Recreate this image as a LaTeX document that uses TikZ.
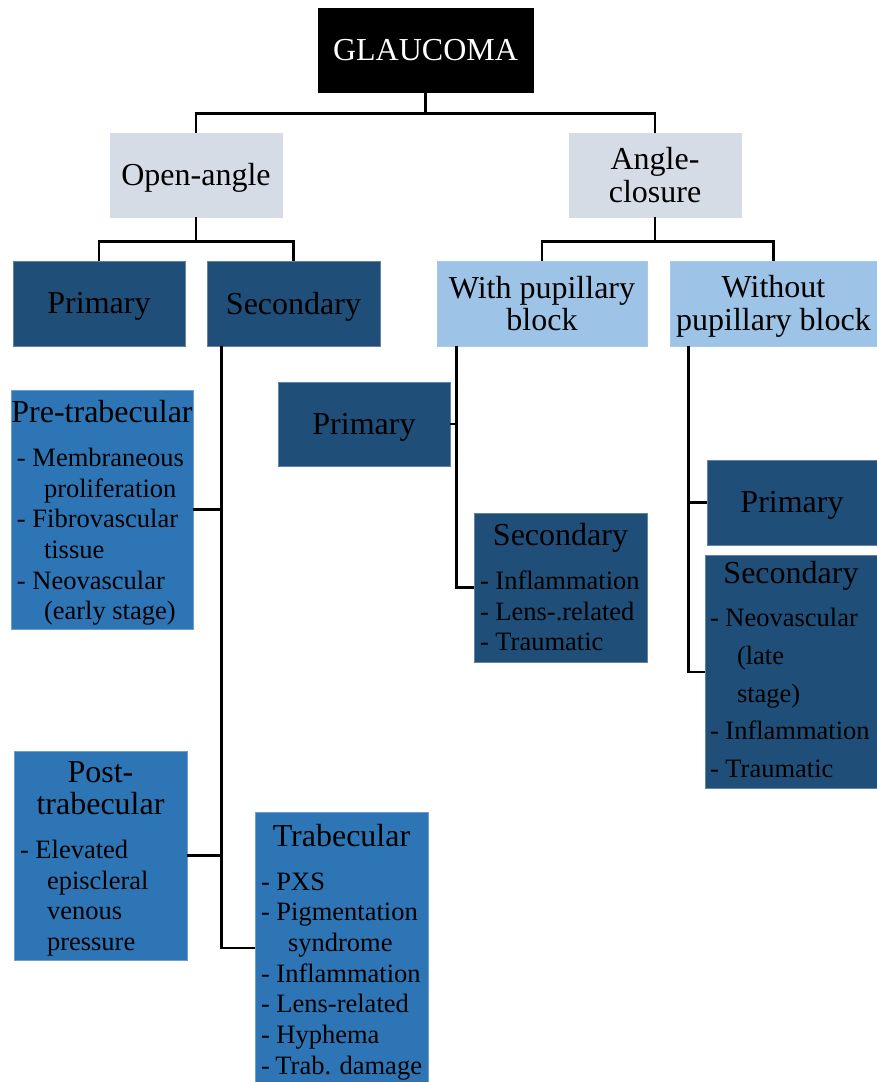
\documentclass[tikz,border=0pt]{standalone}
\usepackage{fontspec}
\setmainfont{Liberation Serif}
\usepackage{tikz}
\usetikzlibrary{positioning}
\usepackage{xcolor}
\definecolor{greyc}{HTML}{D6DCE5}
\definecolor{lightc}{HTML}{9DC3E6}
\definecolor{darkc}{HTML}{1F4E79}
\definecolor{midc}{HTML}{2E75B6}
\newcommand{\indt}{\hspace*{27pt}}
\newcommand{\lift}[1]{\rule{0pt}{#1pt}}
\newcommand{\itemlist}[3][30.7]{{\fontsize{26.5}{#1}\selectfont\begin{tabular}[t]{@{}p{#2pt}@{}}#3\end{tabular}}}

\begin{document}
\begin{tikzpicture}[x=1pt,y=-1pt,line width=2.5pt,
  box/.style={inner sep=0pt,line width=.8pt,align=center,font=\fontsize{32}{32.5}\selectfont},
  topbox/.style={box,fill=black,draw=black,text=white},
  greybox/.style={box,fill=greyc,draw=greyc},
  lightbox/.style={box,fill=lightc,draw=lightc!90!white},
  darkbox/.style={box,fill=darkc,draw=darkc!70!white},
  midbox/.style={box,fill=midc,draw=midc!70!white}]
\useasboundingbox (0,0) rectangle (877,1082);

\node[topbox,minimum width=215,minimum height=84] (glaucoma) at (425.5,50) {GLAUCOMA};

\node[greybox,minimum width=172,minimum height=84] (openangle) at (196,175) {\lift{27}Open-angle};
\node[greybox,minimum width=172,minimum height=84] (angleclosure) at (655,175) {Angle-\\closure};

\node[darkbox,minimum width=172,minimum height=85] (primOA) at (99,303.5) {\lift{27}Primary};
\node[darkbox,minimum width=173,minimum height=85] (secOA) at (293.5,303.5) {\lift{28}Secondary};
\node[lightbox,minimum width=210,minimum height=85] (withPB) at (542,303.5) {With pupillary\\block};
\node[lightbox,minimum width=207,minimum height=85] (withoutPB) at (773.5,303.5) {\lift{28}Without\\pupillary block};

% open-angle, secondary
\node[midbox,minimum width=182,minimum height=235] (pretrab) at (102,509.5) {\lift{33}Pre-trabecular\\[11pt]
  \itemlist{170}{- Membraneous\\ \indt proliferation\\ - Fibrovascular\\ \indt tissue\\ - Neovascular\\ \indt (early stage)}};
\node[midbox,minimum width=173,minimum height=209] (posttrab) at (100.5,855.5) {\lift{31}Post-\\trabecular\\[11pt]
  \itemlist{161}{- Elevated\\ \indt episcleral\\ \indt venous\\ \indt pressure}};
\node[midbox,minimum width=173,minimum height=270] (trab) at (341.5,948) {\lift{34}Trabecular\\[11pt]
  \itemlist{161}{- PXS\\ - Pigmentation\\ \indt syndrome\\ - Inflammation\\ - Lens-related\\ - Hyphema\\ - Trab. damage}};

% angle-closure
\node[darkbox,minimum width=172,minimum height=84] (primW) at (364,424) {\lift{27}Primary};
\node[darkbox,minimum width=173,minimum height=149] (secW) at (560.5,587.5) {\lift{31}Secondary\\[11pt]
  \itemlist{161}{- Inflammation\\ - Lens-.related\\ - Traumatic}};
\node[darkbox,minimum width=170,minimum height=85] (primWO) at (792,502.5) {\lift{27}Primary};
\node[darkbox,minimum width=172,minimum height=230] (secWO) at (791,672) {\lift{28}Secondary\\[9pt]
  \itemlist[37.7]{162}{- Neovascular\\ \indt (late\\ \indt stage)\\ - Inflammation\\ - Traumatic}};

% connectors
\draw (glaucoma.south) -- ++(0,21) -| (openangle.north);
\draw (glaucoma.south) -- ++(0,21) -| (angleclosure.north);
\draw (openangle.south) -- ++(0,24) -| (primOA.north);
\draw (openangle.south) -- ++(0,24) -| (secOA.north);
\draw (angleclosure.south) -- ++(0,24) -| (withPB.north);
\draw (angleclosure.south) -- ++(0,24) -| (withoutPB.north);

\coordinate (spineOA) at ([xshift=15pt]secOA.south west);
\draw (spineOA) |- (trab.west);
\draw (pretrab.east) -- (pretrab.east -| spineOA);
\draw (posttrab.east) -- (posttrab.east -| spineOA);

\coordinate (spineW) at ([xshift=20pt]withPB.south west);
\draw (spineW) |- (secW.west);
\draw (primW.east) -- (primW.east -| spineW);

\coordinate (spineWO) at ([xshift=19pt]withoutPB.south west);
\draw (spineWO) |- (secWO.west);
\draw (primWO.west) -- (primWO.west -| spineWO);
\end{tikzpicture}
\end{document}
